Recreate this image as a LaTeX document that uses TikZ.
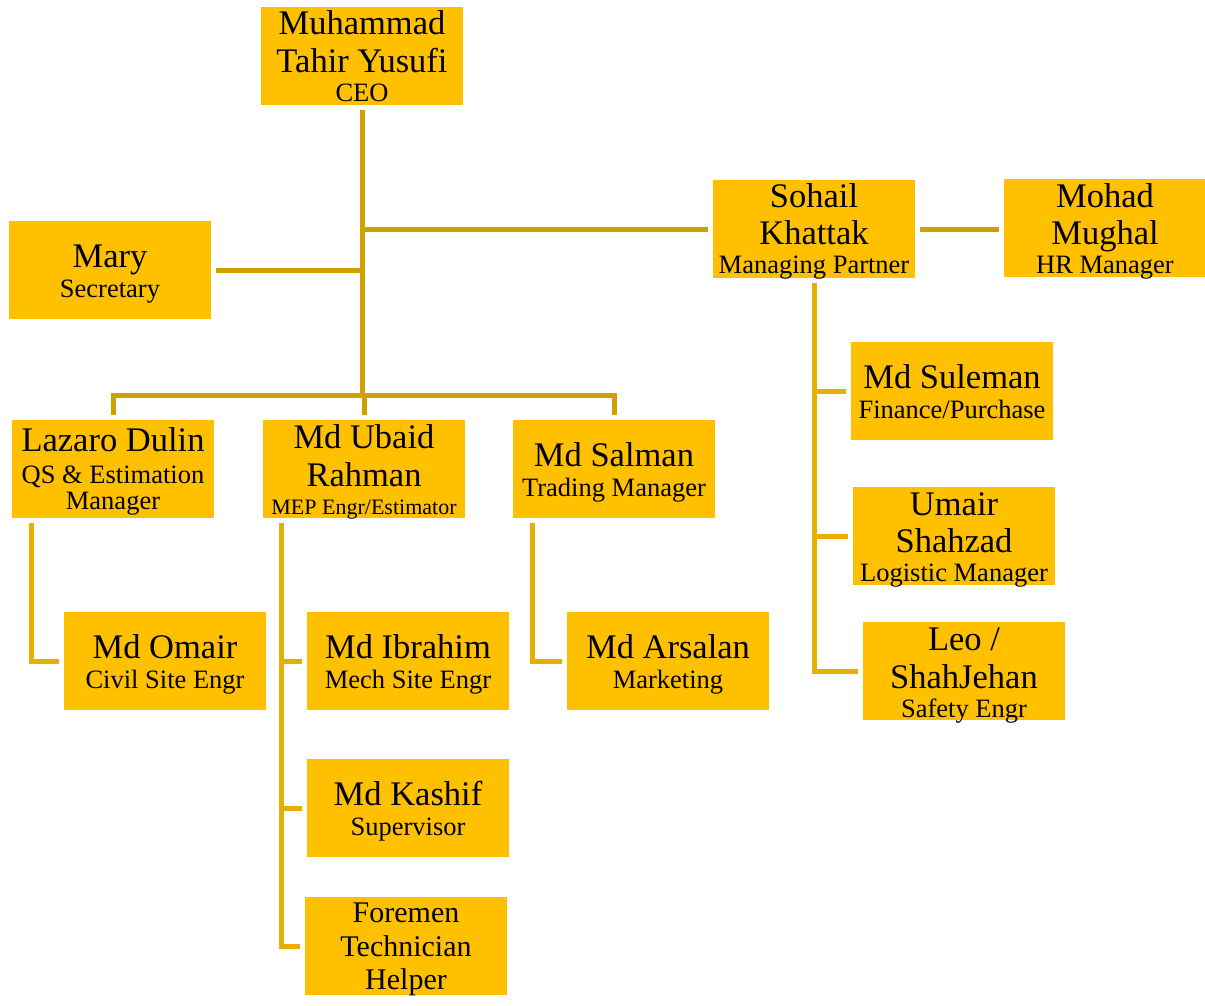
\documentclass[tikz,border=0pt]{standalone}
\usepackage{fontspec}
\setmainfont{Liberation Serif}
\usetikzlibrary{calc}
\definecolor{boxc}{HTML}{FFC000}
\definecolor{linetop}{HTML}{D0A000}
\definecolor{linelow}{HTML}{E6B000}
\newcommand\subt[1]{{\fontsize{26.5}{28}\selectfont #1}}
\begin{document}
\begin{tikzpicture}[x=1pt,y=-1pt,
  box/.style={fill=boxc, minimum width=202pt, minimum height=98pt, inner sep=0pt,
    outer sep=5pt, align=center, font=\fontsize{34.5}{37}\selectfont},
  last/.style={text height=#1, text depth=98pt-#1},
  conn/.style={draw=linetop, line width=5pt},
  connb/.style={draw=linelow, line width=5pt}]
\useasboundingbox (0,0) rectangle (1205,1005);
% nodes
\node[box, last=94pt] (ceo) at (362,56) {Muhammad\\[1pt]Tahir Yusufi\\[-8pt]\subt{CEO}};
\node[box, last=76pt] (mary) at (110,270) {Mary\\[-7pt]\subt{Secretary}};
\node[box, last=93.5pt] (sohail) at (814,229) {Sohail\\Khattak\\[-8pt]\subt{Managing Partner}};
\node[box, last=94pt] (mohad) at (1105,228) {Mohad\\Mughal\\[-8pt]\subt{HR Manager}};
\node[box, last=89.5pt] (lazaro) at (113,469) {Lazaro Dulin\\[-5pt]\subt{QS \& Estimation}\\[-11pt]\subt{Manager}};
\node[box, last=94pt] (ubaid) at (364,469) {Md Ubaid\\[1pt]Rahman\\[-9pt]{\fontsize{22}{24}\selectfont MEP Engr/Estimator}};
\node[box, last=76pt] (salman) at (614,469) {Md Salman\\[-7pt]\subt{Trading Manager}};
\node[box, last=76.5pt] (omair) at (165,661) {Md Omair\\[-7pt]\subt{Civil Site Engr}};
\node[box, last=76.5pt] (ibrahim) at (408,661) {Md Ibrahim\\[-7pt]\subt{Mech Site Engr}};
\node[box, last=76.5pt] (kashif) at (408,808) {Md Kashif\\[-7pt]\subt{Supervisor}};
\node[box, last=92.5pt, font=\fontsize{30}{33.3}\selectfont] (foremen) at (406,946) {Foremen\\Technician\\Helper};
\node[box, last=76.5pt] (arsalan) at (668,661) {Md Arsalan\\[-7pt]\subt{Marketing}};
\node[box, last=76.5pt] (suleman) at (952,391) {Md Suleman\\[-7pt]\subt{Finance/Purchase}};
\node[box, last=94.5pt] (umair) at (954,536) {Umair\\Shahzad\\[-8pt]\subt{Logistic Manager}};
\node[box, last=95pt] (leo) at (964,671) {Leo /\\[1pt]ShahJehan\\[-8pt]\subt{Safety Engr}};
% connectors
\coordinate (bar) at (0,395);
\draw[conn] (ceo.south) -- (ceo.south |- bar);
\draw[conn] (mary.east) -- (mary.east -| ceo.south);
\draw[conn] (sohail.west) -- (sohail.west -| ceo.south);
\draw[conn] (sohail.east) -- (sohail.east -| mohad.west);
\draw[conn] (lazaro.north) |- (salman.north |- bar) -- (salman.north);
\draw[conn] (ubaid.north) -- (ubaid.north |- bar);
% Sohail subtree
\draw[connb] (sohail.south) |- (leo.west);
\draw[connb] (suleman.west) -- (suleman.west -| sohail.south);
\draw[connb] (umair.west) -- (umair.west -| sohail.south);
% Lazaro subtree
\coordinate (lz) at ($(lazaro.south west)+(24,0)$);
\draw[connb] (lz) |- (omair.west);
% Ubaid subtree
\coordinate (ub) at ($(ubaid.south west)+(23,0)$);
\draw[connb] (ub) |- (foremen.west);
\draw[connb] (ibrahim.west) -- (ibrahim.west -| ub);
\draw[connb] (kashif.west) -- (kashif.west -| ub);
% Salman subtree
\coordinate (sa) at ($(salman.south west)+(24,0)$);
\draw[connb] (sa) |- (arsalan.west);
\end{tikzpicture}
\end{document}
